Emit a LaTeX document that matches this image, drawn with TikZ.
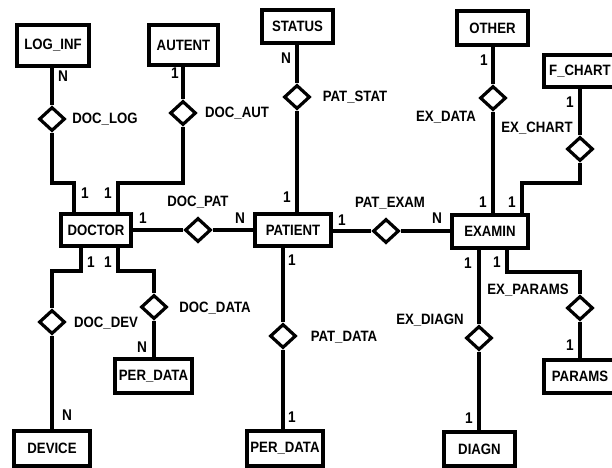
\documentclass[tikz,border=0pt]{standalone}
\usepackage{fontspec}
\setmainfont{Liberation Sans}[FakeStretch=0.88]
\usetikzlibrary{shapes.geometric}
\begin{document}
\begin{tikzpicture}[x=1pt,y=-1pt,
  ent/.style={draw,line width=3.6pt,rectangle,inner sep=0pt,font=\fontsize{15}{16}\selectfont\bfseries},
  rel/.style={draw,line width=3.2pt,diamond,inner sep=0pt,minimum width=26pt,minimum height=24pt},
  lbl/.style={inner sep=0pt,font=\fontsize{15}{16}\selectfont\bfseries},
  card/.style={inner sep=0pt,font=\fontsize{15.5}{16}\selectfont\bfseries},
  con/.style={line width=3.6pt,line join=miter}]
\useasboundingbox (0,0) rectangle (612,467);
\clip (0,0) rectangle (612,467);
% entities
\node[ent,minimum width=72.5pt,minimum height=41.5pt] (loginf) at (53,45.5) {LOG\_INF};
\node[ent,minimum width=69.5pt,minimum height=40.5pt] (autent) at (183.5,45) {AUTENT};
\node[ent,minimum width=71.5pt,minimum height=33.5pt] (status) at (297.5,26.5) {STATUS};
\node[ent,minimum width=71.5pt,minimum height=34.5pt] (other) at (492.5,28) {OTHER};
\node[ent,minimum width=72.5pt,minimum height=32.5pt] (fchart) at (580,71) {F\_CHART};
\node[ent,minimum width=70.5pt,minimum height=32.5pt] (doctor) at (96,230) {DOCTOR};
\node[ent,minimum width=76.5pt,minimum height=32.5pt] (patient) at (293,230) {PATIENT};
\node[ent,minimum width=76.5pt,minimum height=33.5pt] (examin) at (490,231.5) {EXAMIN};
\node[ent,minimum width=77.5pt,minimum height=34.5pt] (perdata1) at (153.5,376) {PER\_DATA};
\node[ent,minimum width=76.5pt,minimum height=35.5pt] (device) at (52,448.5) {DEVICE};
\node[ent,minimum width=76.5pt,minimum height=35.5pt] (perdata2) at (285,448.5) {PER\_DATA};
\node[ent,minimum width=71.5pt,minimum height=34.5pt] (diagn) at (479.5,449) {DIAGN};
\node[ent,minimum width=72.5pt,minimum height=33.5pt] (params) at (580,376.5) {PARAMS};
% relationships
\node[rel] (dlog) at (52,119) {};
\node[rel] (daut) at (183,113) {};
\node[rel] (dstat) at (297,97) {};
\node[rel] (dpat) at (198,230) {};
\node[rel] (dexam) at (386,231) {};
\node[rel] (dexd) at (493,98) {};
\node[rel] (dchart) at (580,149) {};
\node[rel] (dparams) at (580,308) {};
\node[rel] (ddiagn) at (479,338) {};
\node[rel] (dpdata) at (283,336) {};
\node[rel] (ddev) at (52,322) {};
\node[rel] (ddata) at (154,307) {};
% connectors
\draw[con] (dlog.north) -- (dlog.north |- loginf.south);
\draw[con] (dlog.south) -- (52,183) -| ([xshift=-22pt]doctor.north);
\draw[con] (daut.north) -- (daut.north |- autent.south);
\draw[con] (daut.south) -- (183,183) -| ([xshift=22pt]doctor.north);
\draw[con] (dstat.north) -- (dstat.north |- status.south);
\draw[con] (dstat.south) -- (dstat.south |- patient.north);
\draw[con] (doctor.east) -- (dpat.west);
\draw[con] (dpat.east) -- (dpat.east -| patient.west);
\draw[con] (patient.east |- dexam.west) -- (dexam.west);
\draw[con] (dexam.east) -- (dexam.east -| examin.west);
\draw[con] (dexd.north) -- (dexd.north |- other.south);
\draw[con] (dexd.south) -- (dexd.south |- examin.north);
\draw[con] (dchart.north) -- (dchart.north |- fchart.south);
\draw[con] (dchart.south) -- (580,183) -| ([xshift=32pt]examin.north);
\draw[con] ([xshift=17pt]examin.south) |- (580,272) -- (dparams.north);
\draw[con] (dparams.south) -- (dparams.south |- params.north);
\draw[con] (ddiagn.north) -- (ddiagn.north |- examin.south);
\draw[con] (ddiagn.south) -- (ddiagn.south |- diagn.north);
\draw[con] (dpdata.north) -- (dpdata.north |- patient.south);
\draw[con] (dpdata.south) -- (dpdata.south |- perdata2.north);
\draw[con] ([xshift=-15pt]doctor.south) |- (52,271) -- (ddev.north);
\draw[con] (ddev.south) -- (ddev.south |- device.north);
\draw[con] ([xshift=22pt]doctor.south) |- (154,271) -- (ddata.north);
\draw[con] (ddata.south) -- (ddata.south |- perdata1.north);
% relationship labels
\node[lbl] (tlog) at (105,119) {DOC\_LOG};
\node[lbl] (taut) at (237,113) {DOC\_AUT};
\node[lbl] (tstat) at (355,97) {PAT\_STAT};
\node[lbl] (tpat) at (198,202) {DOC\_PAT};
\node[lbl] (texam) at (390,203) {PAT\_EXAM};
\node[lbl] (texd) at (446,117) {EX\_DATA};
\node[lbl] (tchart) at (537,128) {EX\_CHART};
\node[lbl] (tparams) at (528,290) {EX\_PARAMS};
\node[lbl] (tdiagn) at (430,320) {EX\_DIAGN};
\node[lbl] (tpdata) at (344,337) {PAT\_DATA};
\node[lbl] (tdev) at (106,323) {DOC\_DEV};
\node[lbl] (tdata) at (215,308) {DOC\_DATA};
% cardinalities
\node[card] (c1) at (63,76) {N};
\node[card] (c2) at (85,193) {1};
\node[card] (c3) at (175,73) {1};
\node[card] (c4) at (108,193) {1};
\node[card] (c5) at (286,58) {N};
\node[card] (c6) at (287,197) {1};
\node[card] (c7) at (143,218) {1};
\node[card] (c8) at (240,218) {N};
\node[card] (c9) at (342,220) {1};
\node[card] (c10) at (437,218) {N};
\node[card] (c11) at (484,60) {1};
\node[card] (c12) at (483,202) {1};
\node[card] (c13) at (570,102) {1};
\node[card] (c14) at (512,202) {1};
\node[card] (c15) at (497,262) {1};
\node[card] (c16) at (570,345) {1};
\node[card] (c17) at (468,263) {1};
\node[card] (c18) at (469,418) {1};
\node[card] (c19) at (292,260) {1};
\node[card] (c20) at (292,417) {1};
\node[card] (c21) at (91,262) {1};
\node[card] (c22) at (67,415) {N};
\node[card] (c23) at (108,262) {1};
\node[card] (c24) at (142,347) {N};
\end{tikzpicture}
\end{document}
